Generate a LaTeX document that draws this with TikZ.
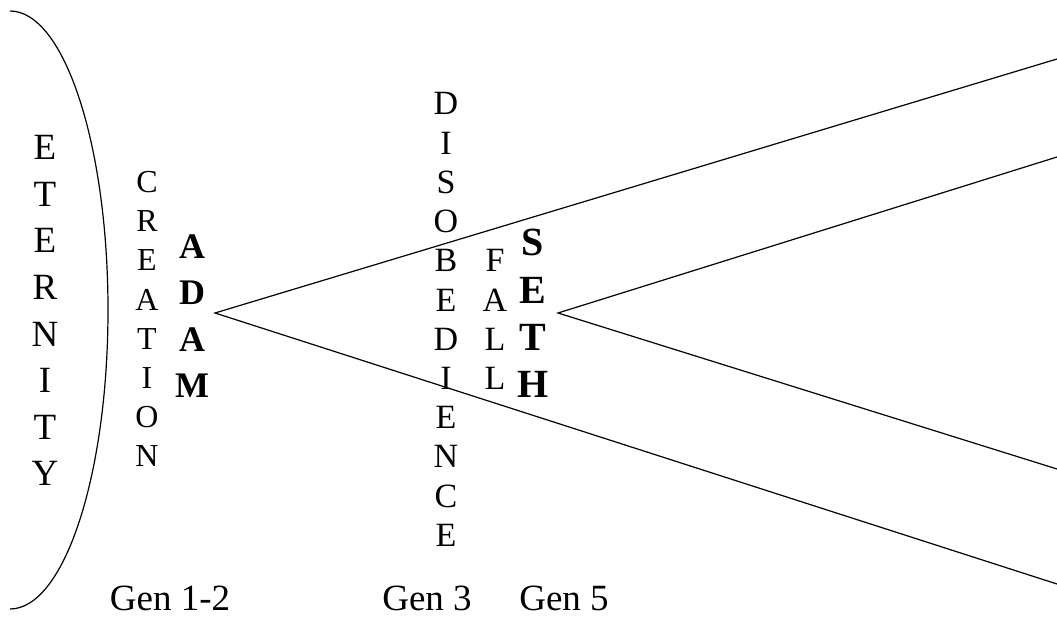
\documentclass[tikz,border=0pt]{standalone}
\usepackage{fontspec}
\setmainfont{Liberation Serif}
\tikzset{
  letter/.style={anchor=base, inner sep=0pt, font=\fontsize{#1}{#1}\selectfont},
  bold letter/.style={letter=#1, font=\fontsize{#1}{#1}\selectfont\bfseries},
  gen label/.style={anchor=base, inner sep=0pt, font=\fontsize{37}{37}\selectfont},
  ray/.style={line width=1.2pt}
}
\begin{document}
\begin{tikzpicture}[x=1pt,y=-1pt]
\useasboundingbox (0,0) rectangle (1057,620);
\draw[ray] (10,11) arc[start angle=-90, end angle=90, x radius=98, y radius=299];
\foreach \l [count=\i] in {E,T,E,R,N,I,T,Y}
  \node[letter=37] (eternity-\i) at (45,{160+46.5*(\i-1)}) {\l};
\foreach \l [count=\i] in {C,R,E,A,T,I,O,N}
  \node[letter=32] (creation-\i) at (147,{193+39*(\i-1)}) {\l};
\foreach \l [count=\i] in {A,D,A,M}
  \node[bold letter=36] (adam-\i) at (192,{259+46*(\i-1)}) {\l};
\foreach \l [count=\i] in {D,I,S,O,B,E,D,I,E,N,C,E}
  \node[letter=34] (disobedience-\i) at (446,{115+39.2*(\i-1)}) {\l};
\foreach \l [count=\i] in {F,A,L,L}
  \node[letter=34] (fall-\i) at (495,{272+39.2*(\i-1)}) {\l};
\foreach \l [count=\i] in {S,E,T,H}
  \node[bold letter=40] (seth-\i) at (533,{256+47.3*(\i-1)}) {\l};
% generations
\node[gen label] (gen12) at (170,610) {Gen 1-2};
\node[gen label] (gen3) at (427,610) {Gen 3};
\node[gen label] (gen5) at (564,610) {Gen 5};
% rays
\coordinate (adam tip) at (215,313);
\coordinate (adam up) at (1057,59);
\coordinate (adam down) at (1057,584);
\coordinate (seth tip) at (558,313);
\coordinate (seth up) at (1057,157);
\coordinate (seth down) at (1057,469);
\draw[ray] (adam up) -- (adam tip) -- (adam down);
\draw[ray] (seth up) -- (seth tip) -- (seth down);
\end{tikzpicture}
\end{document}
